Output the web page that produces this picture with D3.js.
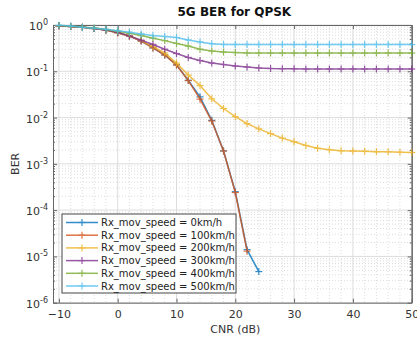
<!DOCTYPE html>
<html>
<head>
<meta charset="utf-8">
<script src="https://cdn.jsdelivr.net/npm/d3@7"></script>
<style>
  html, body { margin: 0; padding: 0; background: #fff; }
  svg { display: block; font-family: "DejaVu Sans", sans-serif; }
</style>
</head>
<body>
<svg id="chart" width="417" height="340"></svg>
<script>
// ---------- data ----------
const cnr = [-10, -8, -6, -4, -2, 0, 2, 4, 6, 8, 10, 12, 14, 16, 18, 20, 22, 24, 26, 28, 30, 32, 34, 36, 38, 40, 42, 44, 46, 48, 50];

const seriesNames = [
  "Rx_mov_speed = 0km/h",
  "Rx_mov_speed = 100km/h",
  "Rx_mov_speed = 200km/h",
  "Rx_mov_speed = 300km/h",
  "Rx_mov_speed = 400km/h",
  "Rx_mov_speed = 500km/h"
];

const ber0 = [0.96, 0.93, 0.89, 0.84, 0.78, 0.68, 0.58, 0.45, 0.32, 0.225, 0.138, 0.064, 0.028, 0.0087, 0.0019, 0.00025, 0.000014, 0.0000047,
  null, null, null, null, null, null, null, null, null, null, null, null, null];
const ber100 = [0.96, 0.93, 0.89, 0.84, 0.78, 0.68, 0.58, 0.45, 0.32, 0.225, 0.136, 0.063, 0.025, 0.0084, 0.0019, 0.00024, 0.000013, null,
  null, null, null, null, null, null, null, null, null, null, null, null, null];
const ber200 = [0.96, 0.93, 0.89, 0.84, 0.78, 0.68, 0.58, 0.46, 0.34, 0.25, 0.15, 0.083, 0.049, 0.0254, 0.0157, 0.0105, 0.0074, 0.0057,
  0.0045, 0.0036, 0.0030, 0.0025, 0.00217, 0.00202, 0.00192, 0.00189, 0.00187, 0.00183, 0.00182, 0.00178, 0.00176];
const ber300 = [0.96, 0.93, 0.89, 0.84, 0.78, 0.69, 0.58, 0.47, 0.38, 0.30, 0.242, 0.199, 0.171, 0.151, 0.140, 0.130, 0.124, 0.118,
  0.115, 0.114, 0.113, 0.112, 0.112, 0.112, 0.112, 0.112, 0.112, 0.112, 0.112, 0.112, 0.112];
const ber400 = [0.97, 0.94, 0.90, 0.86, 0.80, 0.73, 0.66, 0.59, 0.52, 0.46, 0.40, 0.35, 0.30, 0.274, 0.261, 0.254, 0.249, 0.248,
  0.248, 0.248, 0.248, 0.248, 0.248, 0.248, 0.248, 0.248, 0.248, 0.248, 0.248, 0.248, 0.248];
const ber500 = [0.985, 0.95, 0.89, 0.85, 0.81, 0.75, 0.70, 0.64, 0.59, 0.565, 0.537, 0.474, 0.43, 0.394, 0.379, 0.378, 0.378, 0.378,
  0.378, 0.378, 0.378, 0.378, 0.378, 0.378, 0.378, 0.378, 0.378, 0.378, 0.378, 0.378, 0.378];

const colors = ["#0072BD", "#D95319", "#EDB120", "#7E2F8E", "#77AC30", "#4DBEEE"];

const xTicks = [-10, 0, 10, 20, 30, 40, 50];
const yTicks = [1e-6, 1e-5, 1e-4, 1e-3, 1e-2, 1e-1, 1];
const yTickExp = ["-6", "-5", "-4", "-3", "-2", "-1", "0"];

const titleText = "5G BER for QPSK";
const xLabel = "CNR (dB)";
const yLabel = "BER";

// ---------- layout ----------
const L = 53, T = 25, R = 411.7, B = 302.7;
const svg = d3.select("#chart");

const x = d3.scaleLinear().domain([-11, 50]).range([L, R]);
const y = d3.scaleLog().domain([1e-6, 1]).range([B, T]);

const allSeries = [ber0, ber100, ber200, ber300, ber400, ber500];

// ---------- grid ----------
const grid = svg.append("g");
const xMinor = d3.range(-10, 51, 2).filter(v => !xTicks.includes(v));
grid.selectAll(".xm").data(xMinor).enter().append("line")
  .attr("x1", d => x(d)).attr("x2", d => x(d)).attr("y1", T).attr("y2", B)
  .attr("stroke", "#d4d4d4").attr("stroke-width", 0.8).attr("stroke-dasharray", "1,2");
const yMinor = [];
for (let e = -6; e < 0; e++) for (let m = 2; m <= 9; m++) yMinor.push(m * Math.pow(10, e));
grid.selectAll(".ym").data(yMinor).enter().append("line")
  .attr("x1", L).attr("x2", R).attr("y1", d => y(d)).attr("y2", d => y(d))
  .attr("stroke", "#d4d4d4").attr("stroke-width", 0.8).attr("stroke-dasharray", "1,2");
grid.selectAll(".xM").data(xTicks).enter().append("line")
  .attr("x1", d => x(d)).attr("x2", d => x(d)).attr("y1", T).attr("y2", B)
  .attr("stroke", "#dcdcdc").attr("stroke-width", 1);
grid.selectAll(".yM").data(yTicks).enter().append("line")
  .attr("x1", L).attr("x2", R).attr("y1", d => y(d)).attr("y2", d => y(d))
  .attr("stroke", "#dcdcdc").attr("stroke-width", 1);

// ---------- axes ----------
const axisColor = "#666";
const tickColor = "#333";

const xAxisB = svg.append("g").attr("transform", `translate(0,${B})`)
  .call(d3.axisBottom(x).tickValues(xTicks).tickSizeInner(-4).tickSizeOuter(0).tickPadding(8).tickFormat(d3.format("d")));
const xAxisT = svg.append("g").attr("transform", `translate(0,${T})`)
  .call(d3.axisTop(x).tickValues(xTicks).tickSizeInner(-4).tickSizeOuter(0).tickFormat(""));
const yAxisL = svg.append("g").attr("transform", `translate(${L},0)`)
  .call(d3.axisLeft(y).tickValues(yTicks).tickSizeInner(-4).tickSizeOuter(0).tickFormat(""));
const yAxisR = svg.append("g").attr("transform", `translate(${R},0)`)
  .call(d3.axisRight(y).tickValues(yTicks).tickSizeInner(-4).tickSizeOuter(0).tickFormat(""));
const yMinL = svg.append("g").attr("transform", `translate(${L},0)`)
  .call(d3.axisLeft(y).tickValues(yMinor).tickSizeInner(-2).tickSizeOuter(0).tickFormat(""));
const yMinR = svg.append("g").attr("transform", `translate(${R},0)`)
  .call(d3.axisRight(y).tickValues(yMinor).tickSizeInner(-2).tickSizeOuter(0).tickFormat(""));

[xAxisB, xAxisT, yAxisL, yAxisR, yMinL, yMinR].forEach(g => {
  g.select(".domain").attr("stroke", axisColor);
  g.selectAll(".tick line").attr("stroke", axisColor);
});
xAxisB.selectAll("text").attr("fill", tickColor).attr("font-size", 11)
  .attr("font-family", "DejaVu Sans, sans-serif");

const yLab = svg.append("g");
yTicks.forEach((v, i) => {
  const t = yLab.append("text")
    .attr("x", L - 5).attr("y", y(v) + 5)
    .attr("text-anchor", "end").attr("fill", tickColor)
    .attr("font-size", 11);
  t.append("tspan").text("10");
  t.append("tspan").attr("dy", -5).attr("font-size", 8).text(yTickExp[i]);
});

// ---------- lines ----------
const line = d3.line()
  .defined(d => d.v != null)
  .x(d => x(d.c)).y(d => y(d.v));

const plot = svg.append("g");
const ms = 3.5;
allSeries.forEach((s, i) => {
  const pts = cnr.map((c, j) => ({ c, v: s[j] }));
  const g = plot.append("g").attr("opacity", 0.8);
  g.append("path").datum(pts)
    .attr("d", line).attr("fill", "none")
    .attr("stroke", colors[i]).attr("stroke-width", 1.5);
  const valid = pts.filter(d => d.v != null);
  const mk = g.append("g").attr("stroke", colors[i]).attr("stroke-width", 1.2);
  mk.selectAll("line.h").data(valid).enter().append("line")
    .attr("x1", d => x(d.c) - ms).attr("x2", d => x(d.c) + ms)
    .attr("y1", d => y(d.v)).attr("y2", d => y(d.v));
  mk.selectAll("line.v").data(valid).enter().append("line")
    .attr("x1", d => x(d.c)).attr("x2", d => x(d.c))
    .attr("y1", d => y(d.v) - ms).attr("y2", d => y(d.v) + ms);
});

// ---------- legend ----------
const lg = svg.append("g");
const lgX = 62, lgY = 214, lgW = 174, lgH = 79;
lg.append("rect").attr("x", lgX).attr("y", lgY).attr("width", lgW).attr("height", lgH)
  .attr("fill", "#fff").attr("stroke", "#444").attr("stroke-width", 1);
seriesNames.forEach((name, i) => {
  const yy = lgY + 8.5 + i * 12.7;
  const g = lg.append("g").attr("opacity", 0.8).attr("stroke", colors[i]);
  g.append("line").attr("x1", 66).attr("x2", 98).attr("y1", yy).attr("y2", yy)
    .attr("stroke-width", 1.5);
  g.append("line").attr("x1", 82 - ms).attr("x2", 82 + ms).attr("y1", yy).attr("y2", yy)
    .attr("stroke-width", 1.2);
  g.append("line").attr("x1", 82).attr("x2", 82).attr("y1", yy - ms).attr("y2", yy + ms)
    .attr("stroke-width", 1.2);
  lg.append("text").attr("x", 101).attr("y", yy + 3.5)
    .attr("font-size", 10).attr("fill", "#222").text(name);
});

// ---------- labels ----------
svg.append("text").attr("x", (L + R) / 2 + 2).attr("y", 16)
  .attr("text-anchor", "middle").attr("font-weight", "bold").attr("font-size", 12)
  .attr("fill", "#111").text(titleText);
svg.append("text").attr("x", (L + R) / 2 + 3).attr("y", 333)
  .attr("text-anchor", "middle").attr("font-size", 11).attr("fill", tickColor).text(xLabel);
svg.append("text").attr("transform", `translate(19,${(T + B) / 2}) rotate(-90)`)
  .attr("text-anchor", "middle").attr("font-size", 11).attr("fill", tickColor).text(yLabel);
</script>
</body>
</html>
